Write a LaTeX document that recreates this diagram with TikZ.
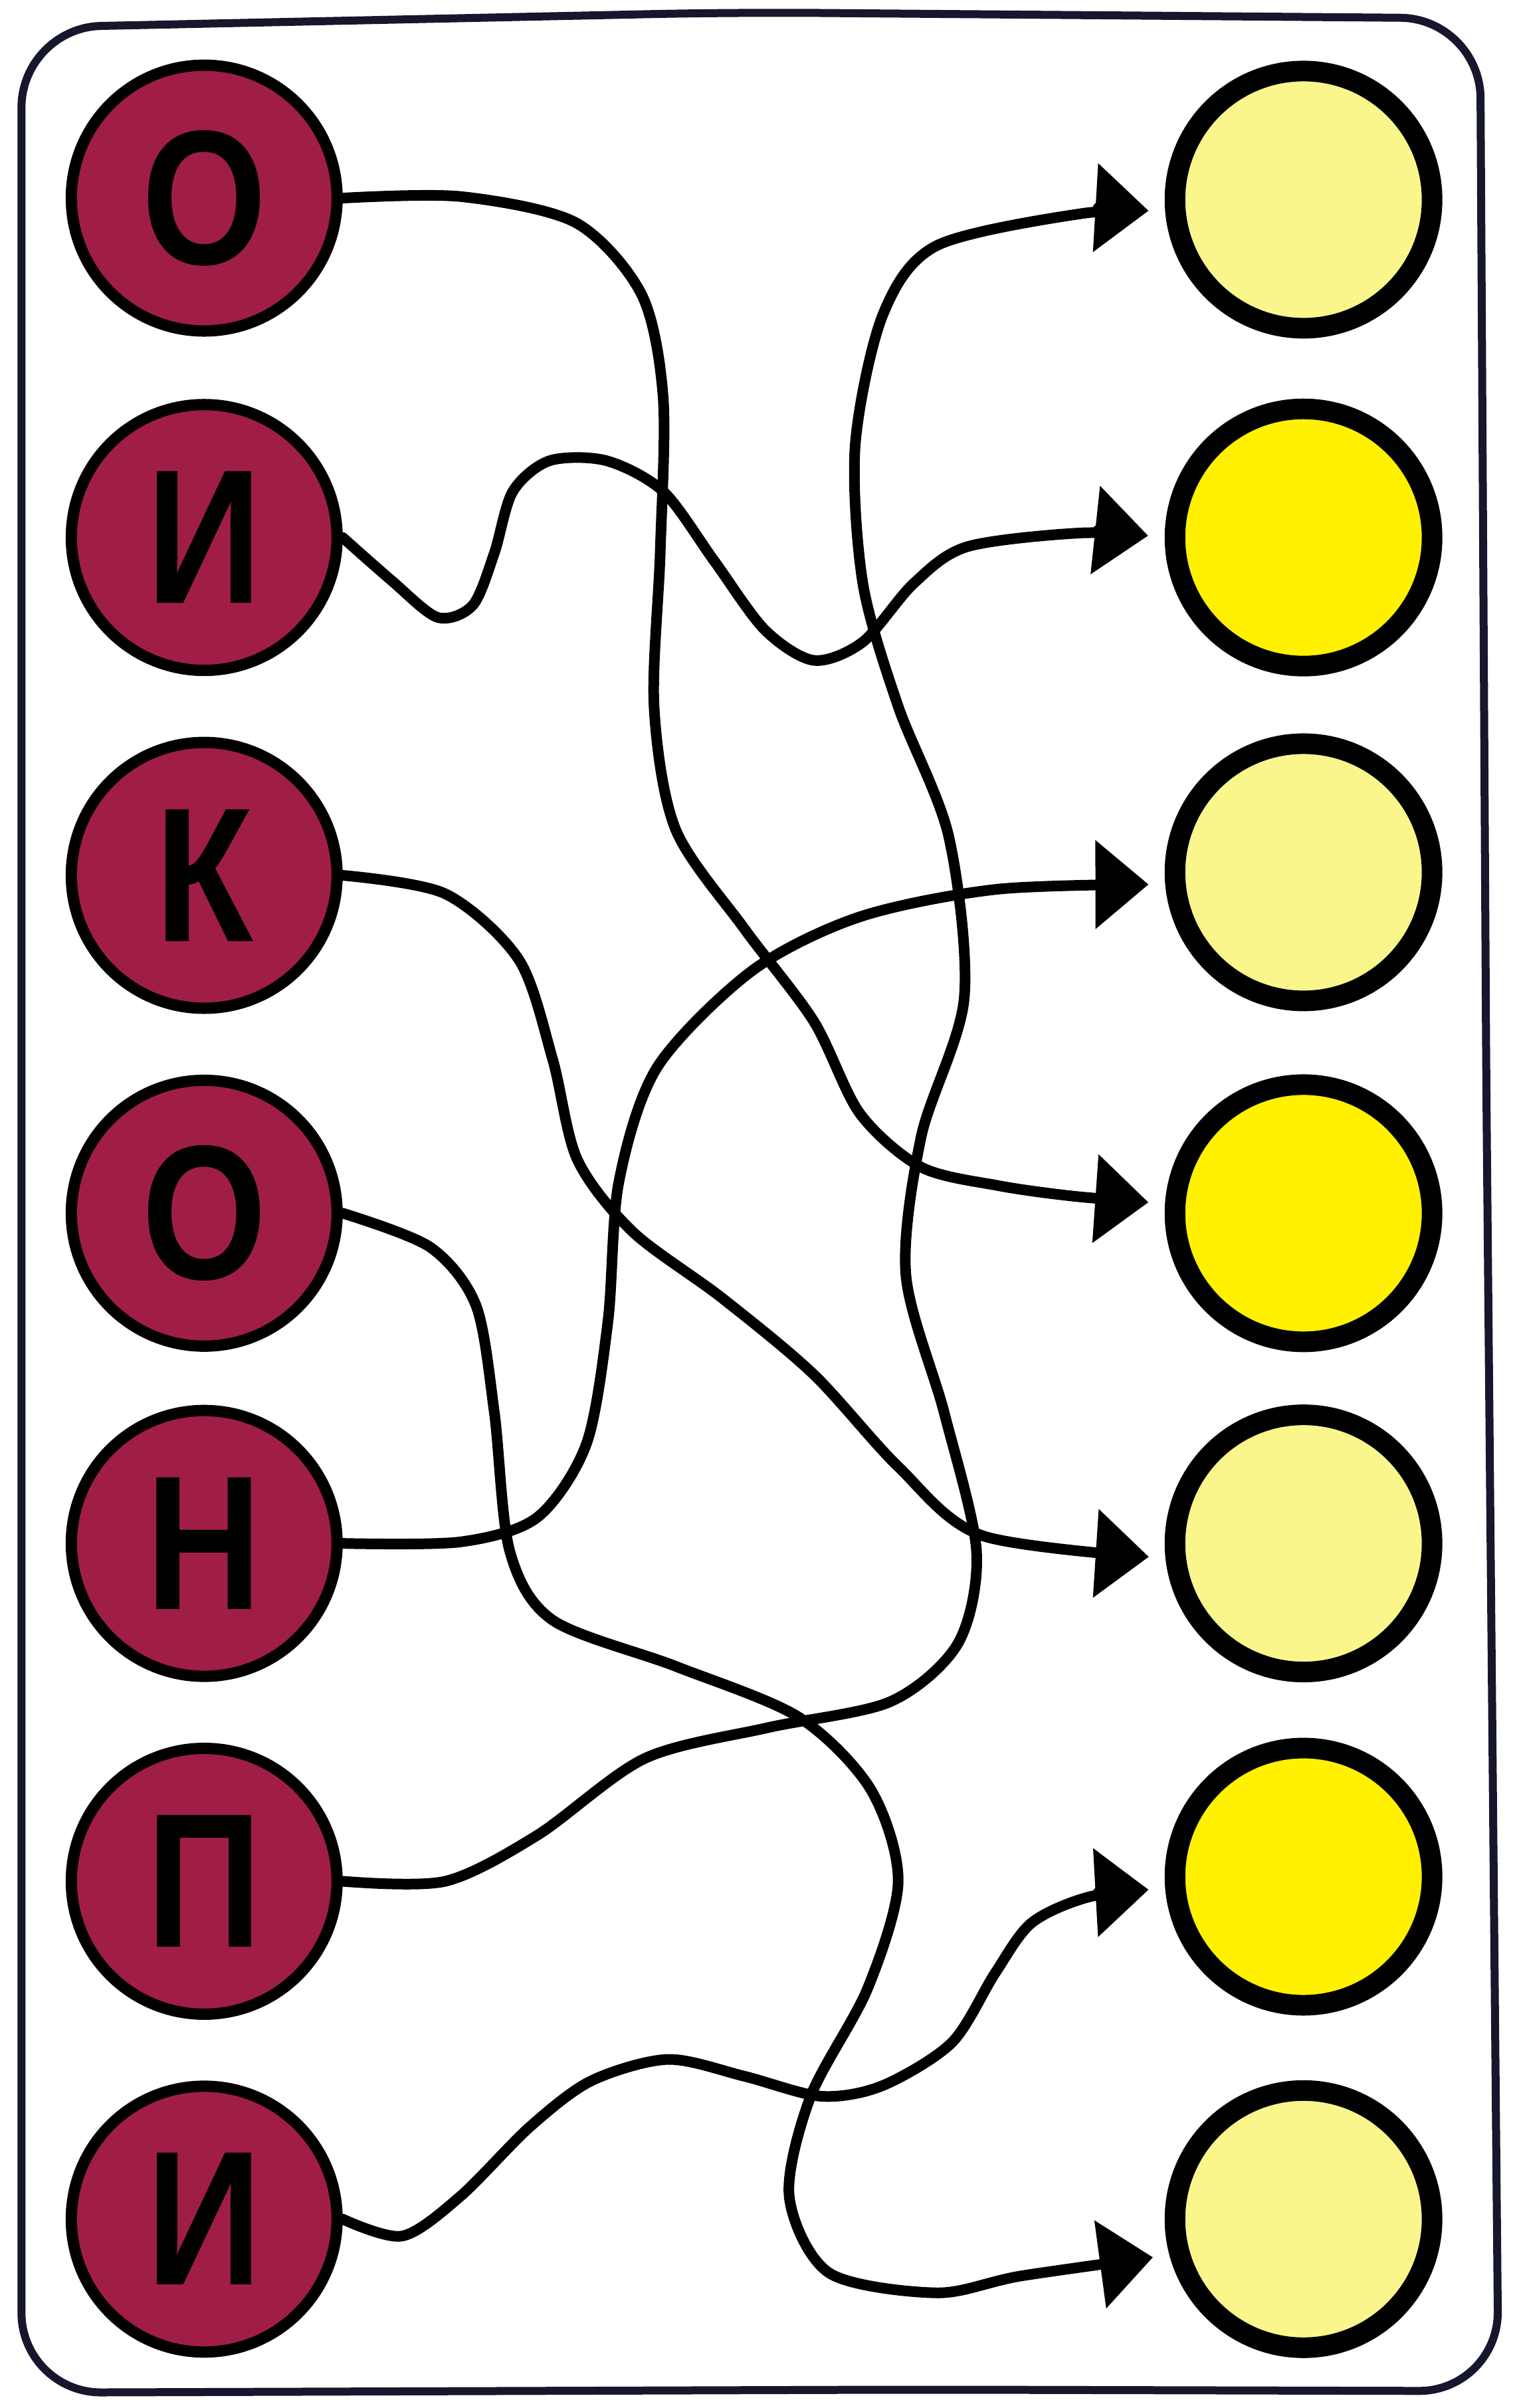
\documentclass[tikz,border=0pt]{standalone}
\usepackage{fontspec}
\setsansfont{Liberation Sans}
\usetikzlibrary{arrows.meta}
\definecolor{beet}{RGB}{160,30,70}
\definecolor{paleyel}{RGB}{250,246,140}
\definecolor{brightyel}{RGB}{255,241,0}
\definecolor{frameink}{RGB}{22,22,45}
\newcommand{\ltr}[1]{\scalebox{0.84}[1]{#1}}

\begin{document}
\begin{tikzpicture}[x=0.2311mm, y=-0.2311mm]
    \tikzset{
      letter/.style={circle, draw, line width=1.7mm, fill=beet, minimum size=40mm,
                     inner sep=0pt, font=\sffamily\bfseries\fontsize{82}{82}\selectfont},
      slot/.style={circle, draw, line width=3.1mm, minimum size=38.7mm, inner sep=0pt},
      link/.style={line width=1.6mm, line cap=round, line join=round,
                   -{Triangle[length=8mm, width=13mm]}, shorten >=2.5mm},
      frame/.style={draw=frameink, line width=1.2mm, rounded corners=12mm},
    }
    \useasboundingbox (0,0) rectangle (989,1568);

    \draw[frame] (14,18) -- (480,8) -- (964,12) -- (968,700) -- (976,1557)
      -- (600,1556) -- (14,1558) -- (14,900) -- cycle;

    \node[letter] (l1) at (133,129) {\ltr{О}};
    \node[letter] (l2) at (133,350) {\ltr{И}};
    \node[letter] (l3) at (133,570) {\ltr{К}};
    \node[letter] (l4) at (133,790) {\ltr{О}};
    \node[letter] (l5) at (133,1005) {\ltr{Н}};
    \node[letter] (l6) at (133,1225) {\ltr{П}};
    \node[letter] (l7) at (133,1445) {\ltr{И}};

    \node[slot, fill=paleyel]   (r1) at (849,130) {};
    \node[slot, fill=brightyel] (r2) at (849,350) {};
    \node[slot, fill=paleyel]   (r3) at (849,568) {};
    \node[slot, fill=brightyel] (r4) at (849,790) {};
    \node[slot, fill=paleyel]   (r5) at (849,1005) {};
    \node[slot, fill=brightyel] (r6) at (849,1222) {};
    \node[slot, fill=paleyel]   (r7) at (849,1445) {};

    \draw[link] plot[smooth] coordinates {(l1.east) (300,128) (375,145) (418,192) (432,260)
      (430,360) (426,460) (440,540) (485,605) (530,665) (560,725) (600,760)
      (650,772) (700,779) (r4.176)};
    \draw[link] plot[smooth] coordinates {(l2.east) (255,378) (285,402) (308,394)
      (322,360) (334,320) (358,300) (395,300) (432,320) (465,365) (498,410)
      (530,430) (562,418) (595,380) (630,356) (705,347) (r2.180)};
    \draw[link] plot[smooth] coordinates {(l3.east) (290,582) (338,625) (360,690)
      (376,755) (412,802) (470,845) (530,895) (585,955) (640,1000) (r5.186)};
    \draw[link] plot[smooth] coordinates {(l4.east) (280,812) (310,850) (322,920)
      (332,1010) (360,1055) (440,1085) (520,1118) (567,1165) (585,1225) (565,1295)
      (528,1365) (514,1430) (540,1480) (610,1493) (665,1482) (r7.195)};
    \draw[link] plot[smooth] coordinates {(l5.east) (300,1004) (350,988) (382,940)
      (396,860) (403,770) (428,695) (490,632) (560,597) (650,579) (r3.185)};
    \draw[link] plot[smooth] coordinates {(l6.east) (290,1225) (350,1195) (420,1145)
      (500,1125) (580,1108) (624,1070) (636,1010) (615,920) (590,830)
      (600,740) (628,650) (618,545) (585,460) (562,380) (557,290)
      (575,205) (610,160) (705,139) (r1.185)};
    \draw[link] plot[smooth] coordinates {(l7.east) (262,1456) (300,1430) (345,1385)
      (385,1355) (435,1341) (485,1352) (535,1365) (575,1358) (620,1330) (648,1285)
      (672,1252) (710,1235) (r6.185)};
  \end{tikzpicture}
\end{document}
